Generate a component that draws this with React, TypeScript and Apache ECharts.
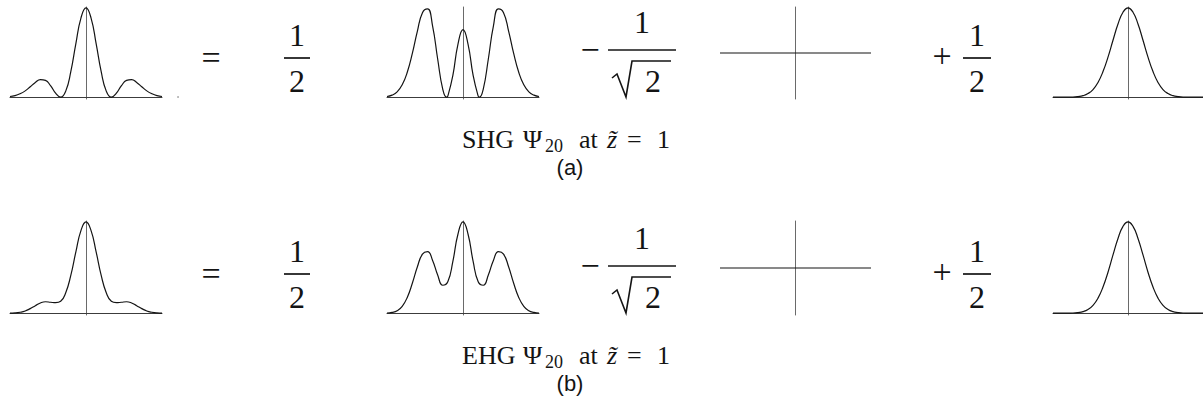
import React, { useEffect, useRef } from "react";
import * as echarts from "echarts";

// Shared abscissa (dimensionless transverse coordinate)
const xGrid = [
  -3, -2.8, -2.6, -2.4, -2.2, -2, -1.8, -1.6, -1.4, -1.2, -1, -0.8, -0.6, -0.4, -0.2, 0,
  0.2, 0.4, 0.6, 0.8, 1, 1.2, 1.4, 1.6, 1.8, 2, 2.2, 2.4, 2.6, 2.8, 3,
];

// SHG Psi_20 intensity profile at z = 1
const shgTotal = [
  0.008, 0.018, 0.039, 0.071, 0.117, 0.165, 0.197, 0.188, 0.13, 0.046, 0, 0.068, 0.286, 0.601, 0.886, 1,
  0.886, 0.601, 0.286, 0.068, 0, 0.046, 0.13, 0.188, 0.197, 0.165, 0.117, 0.071, 0.039, 0.018, 0.008,
];

// First SHG term (three lobes), sampled with its zeros included
const xShgLobes = [
  -3, -2.8, -2.6, -2.4, -2.2, -2, -1.8, -1.6, -1.4, -1.2, -1, -0.8, -0.65, -0.6, -0.4, -0.2, 0,
  0.2, 0.4, 0.6, 0.65, 0.8, 1, 1.2, 1.4, 1.6, 1.8, 2, 2.2, 2.4, 2.6, 2.8, 3,
];
const shgLobes = [
  0.008, 0.023, 0.06, 0.139, 0.279, 0.49, 0.741, 0.947, 0.989, 0.796, 0.428, 0.091, 0, 0.012, 0.244, 0.592, 0.756,
  0.592, 0.244, 0.012, 0, 0.091, 0.428, 0.796, 0.989, 0.947, 0.741, 0.49, 0.279, 0.139, 0.06, 0.023, 0.008,
];

// Cross term vanishes identically
const crossX = [-3, 3];
const crossTerm = [0, 0];

// Gaussian term
const gaussian = [
  0, 0, 0, 0.001, 0.002, 0.007, 0.017, 0.041, 0.086, 0.165, 0.287, 0.449, 0.638, 0.819, 0.951, 1,
  0.951, 0.819, 0.638, 0.449, 0.287, 0.165, 0.086, 0.041, 0.017, 0.007, 0.002, 0.001, 0, 0, 0,
];

// EHG Psi_20 intensity profile at z = 1
const ehgTotal = [
  0.001, 0.003, 0.01, 0.024, 0.05, 0.082, 0.112, 0.125, 0.12, 0.115, 0.13, 0.224, 0.414, 0.672, 0.905, 1,
  0.905, 0.672, 0.414, 0.224, 0.13, 0.115, 0.12, 0.125, 0.112, 0.082, 0.05, 0.024, 0.01, 0.003, 0.001,
];

// First EHG term (three peaks)
const ehgLobes = [
  0.002, 0.008, 0.026, 0.075, 0.173, 0.328, 0.509, 0.647, 0.674, 0.578, 0.419, 0.306, 0.344, 0.568, 0.865, 1,
  0.865, 0.568, 0.344, 0.306, 0.419, 0.578, 0.674, 0.647, 0.509, 0.328, 0.173, 0.075, 0.026, 0.008, 0.002,
];

const rowNames = ["SHG", "EHG"];
const rowTags = ["(a)", "(b)"];

const SERIF = "'Liberation Serif', 'Times New Roman', serif";
const SANS = "'Liberation Sans', Arial, sans-serif";
const INK = "#141414";
const AXIS = "#3c3c3c";

const panelLeft = [10, 387, 720, 1053];
const panelWidth = [152, 152, 151, 152];
const rowTop = [7, 221];
const rowHeight = [92, 94];
const rowShift = [0, 216];

function text(x: number, y: number, s: string, size: number, family = SERIF, extra: any = {}) {
  return {
    type: "text",
    x,
    y,
    silent: true,
    style: {
      text: s,
      fontSize: size,
      fontFamily: family,
      fill: INK,
      align: "center",
      verticalAlign: "middle",
      ...extra,
    },
  };
}

function rule(x1: number, y1: number, x2: number, y2: number, w = 1.7) {
  return {
    type: "line",
    silent: true,
    shape: { x1, y1, x2, y2 },
    style: { stroke: INK, lineWidth: w },
  };
}

function rowGraphics(r: number) {
  const d = rowShift[r];
  const els: any[] = [];
  // "="
  els.push(text(211, 57 + d, "=", 34));
  // 1/2
  els.push(text(297, 35 + d, "1", 32));
  els.push(rule(284, 58 + d, 310, 58 + d));
  els.push(text(297, 81 + d, "2", 32));
  // − 1/√2
  els.push(text(590, 49 + d, "−", 34));
  els.push(text(642, 22 + d, "1", 32));
  els.push(rule(608, 50 + d, 676, 50 + d));
  els.push({
    type: "polyline",
    silent: true,
    shape: { points: [[612, 78 + d], [617, 74 + d], [626, 97 + d], [632, 61 + d], [671, 61 + d]] },
    style: { stroke: INK, lineWidth: 1.6, fill: null },
  });
  els.push(text(653, 81 + d, "2", 32));
  // + 1/2
  els.push(text(942, 55 + d, "+", 34));
  els.push(text(977, 35 + d, "1", 32));
  els.push(rule(963, 58 + d, 991, 58 + d));
  els.push(text(977, 81 + d, "2", 32));
  // caption
  const cy = 139 + d;
  const left = { align: "left" };
  els.push(text(462, cy, rowNames[r], 26, SERIF, left));
  els.push(text(523, cy, "Ψ", 26, SERIF, left));
  els.push(text(545, cy + 7, "20", 18, SERIF, left));
  els.push(text(579, cy, "at", 26, SERIF, left));
  els.push(text(607, cy, "z̃", 26, SERIF, { align: "left", fontStyle: "italic" }));
  els.push(text(627, cy, "=", 26, SERIF, left));
  els.push(text(657, cy, "1", 26, SERIF, left));
  els.push(text(570, 167 + d, rowTags[r], 22, SANS));
  return els;
}

export default function App() {
  const ref = useRef<HTMLDivElement>(null);

  useEffect(() => {
    if (!ref.current) return;
    const chart = echarts.init(ref.current, undefined, { renderer: "svg" });

    const rows = [
      [
        { xs: xGrid, ys: shgTotal },
        { xs: xShgLobes, ys: shgLobes },
        { xs: crossX, ys: crossTerm },
        { xs: xGrid, ys: gaussian },
      ],
      [
        { xs: xGrid, ys: ehgTotal },
        { xs: xGrid, ys: ehgLobes },
        { xs: crossX, ys: crossTerm },
        { xs: xGrid, ys: gaussian },
      ],
    ];

    const grid: any[] = [];
    const xAxis: any[] = [];
    const yAxis: any[] = [];
    const series: any[] = [];

    rows.forEach((panels, r) => {
      panels.forEach((p, c) => {
        const i = grid.length;
        const isCross = c === 2;
        grid.push({ left: panelLeft[c], top: rowTop[r], width: panelWidth[c], height: rowHeight[r] });
        xAxis.push({
          gridIndex: i,
          type: "value",
          min: -3,
          max: 3,
          axisLine: { show: !isCross, onZero: true, lineStyle: { color: AXIS, width: 1 } },
          axisTick: { show: false },
          axisLabel: { show: false },
          splitLine: { show: false },
        });
        yAxis.push({
          gridIndex: i,
          type: "value",
          min: isCross ? -1 : -0.02,
          max: isCross ? 1 : 1.01,
          axisLine: { show: true, onZero: true, lineStyle: { color: "#6a6a6a", width: 1 } },
          axisTick: { show: false },
          axisLabel: { show: false },
          splitLine: { show: false },
        });
        series.push({
          type: "line",
          xAxisIndex: i,
          yAxisIndex: i,
          data: p.xs.map((x, k) => [x, p.ys[k]]),
          smooth: isCross ? false : 0.5,
          showSymbol: false,
          silent: true,
          lineStyle: { color: INK, width: 1.2 },
        });
      });
    });

    chart.setOption({
      animation: false,
      backgroundColor: "#ffffff",
      grid,
      xAxis,
      yAxis,
      series,
      graphic: [
        ...rowGraphics(0),
        ...rowGraphics(1),
        { type: "circle", silent: true, shape: { cx: 178, cy: 97, r: 0.8 }, style: { fill: "#9a9a9a" } },
      ],
    });

    return () => chart.dispose();
  }, []);

  return (
    <div
      ref={ref}
      style={{ position: "absolute", left: 0, top: 0, width: 1203, height: 407, background: "#fff" }}
    />
  );
}
